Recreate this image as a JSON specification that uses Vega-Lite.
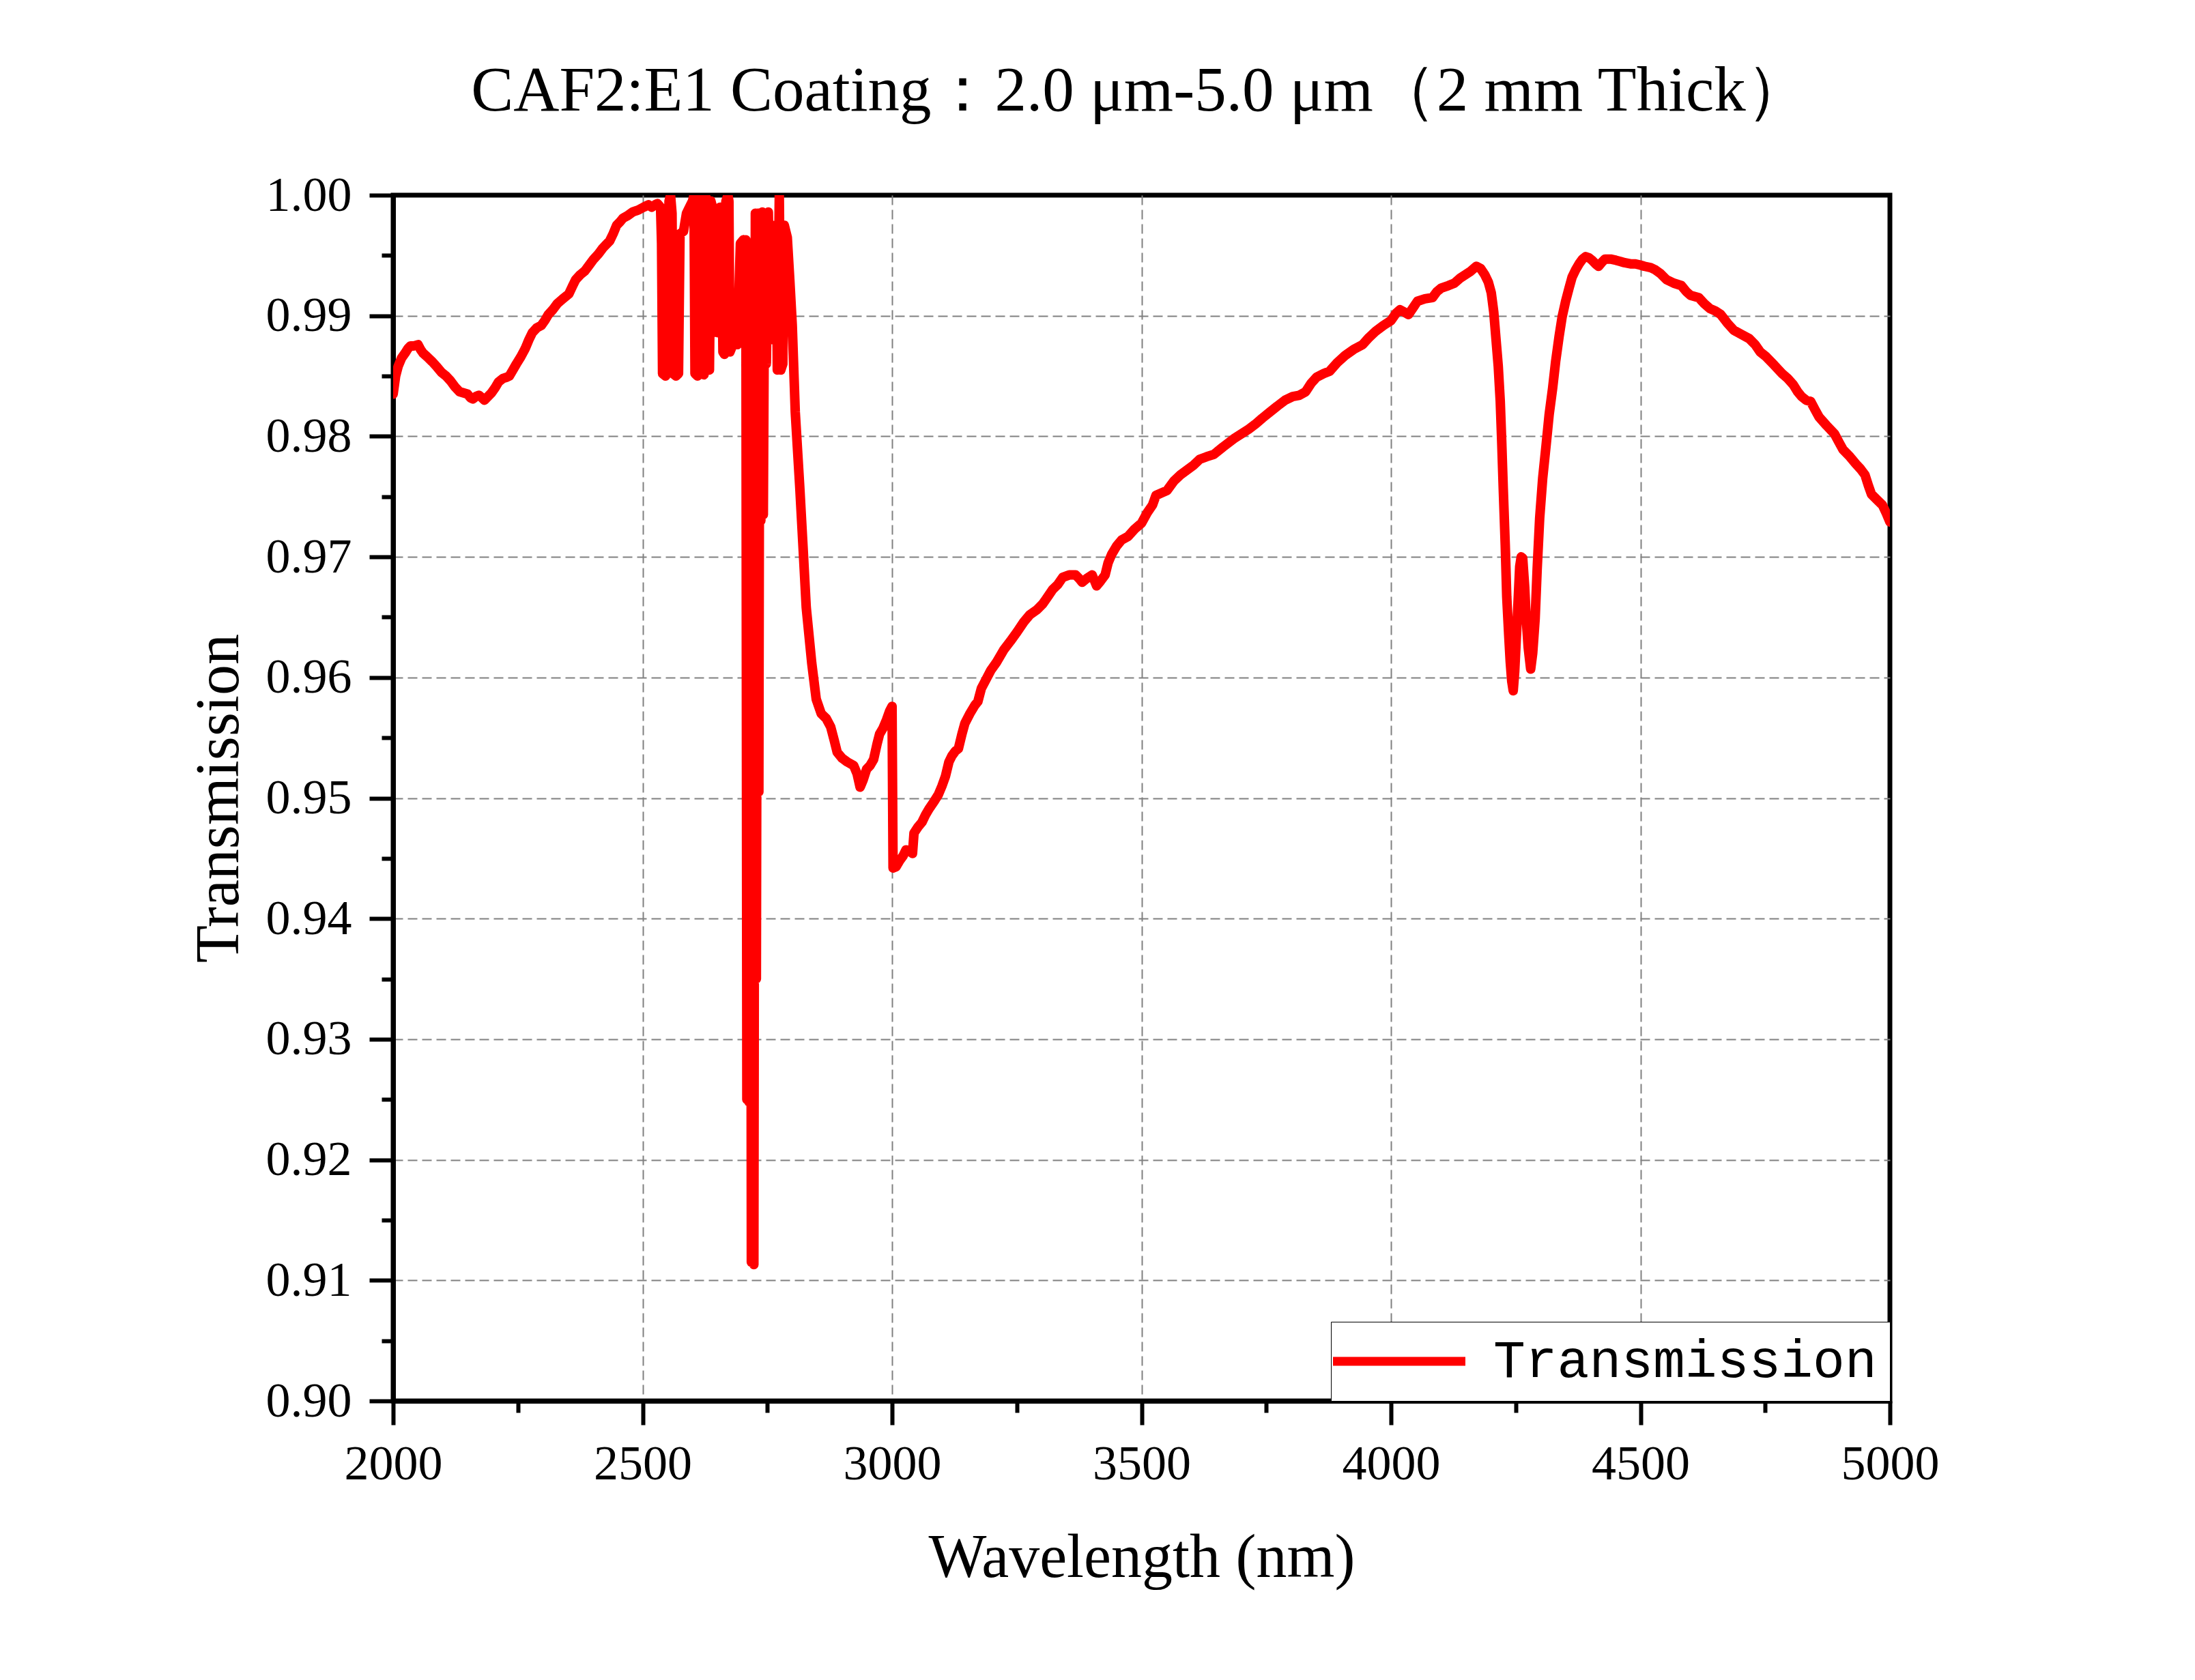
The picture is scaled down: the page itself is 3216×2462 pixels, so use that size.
{
  "$schema": "https://vega.github.io/schema/vega-lite/v6.json",
  "width": 2193,
  "height": 1767,
  "autosize": {"type": "none"},
  "padding": {"left": 576, "top": 286, "right": 447, "bottom": 409},
  "background": "white",
  "title": {
    "text": "CAF2:E1 Coating：2.0 μm-5.0 μm（2 mm Thick）",
    "font": "Liberation Serif",
    "fontSize": 93,
    "fontWeight": "normal",
    "color": "black",
    "anchor": "middle",
    "baseline": "alphabetic",
    "offset": -5,
    "dx": -2
  },
  "data": {
    "values": [
      {"wl": 2000, "t": 0.9835}, {"wl": 2005, "t": 0.9850}, {"wl": 2010, "t": 0.9858}, {"wl": 2017, "t": 0.9865},
      {"wl": 2024, "t": 0.9869}, {"wl": 2030, "t": 0.9873}, {"wl": 2035, "t": 0.9875}, {"wl": 2042, "t": 0.9875},
      {"wl": 2050, "t": 0.9876}, {"wl": 2055, "t": 0.9872}, {"wl": 2060, "t": 0.9869}, {"wl": 2068, "t": 0.9866},
      {"wl": 2078, "t": 0.9862}, {"wl": 2087, "t": 0.9858}, {"wl": 2097, "t": 0.9853}, {"wl": 2106, "t": 0.9850},
      {"wl": 2115, "t": 0.9846}, {"wl": 2124, "t": 0.9841}, {"wl": 2133, "t": 0.9837}, {"wl": 2141, "t": 0.9836},
      {"wl": 2149, "t": 0.9835}, {"wl": 2155, "t": 0.9832}, {"wl": 2160, "t": 0.9831}, {"wl": 2166, "t": 0.9833},
      {"wl": 2172, "t": 0.9834}, {"wl": 2178, "t": 0.9832}, {"wl": 2183, "t": 0.9830}, {"wl": 2190, "t": 0.9833},
      {"wl": 2197, "t": 0.9836}, {"wl": 2204, "t": 0.9840}, {"wl": 2211, "t": 0.9845}, {"wl": 2220, "t": 0.9848},
      {"wl": 2228, "t": 0.9849}, {"wl": 2233, "t": 0.9850}, {"wl": 2240, "t": 0.9855}, {"wl": 2247, "t": 0.9860},
      {"wl": 2256, "t": 0.9866}, {"wl": 2265, "t": 0.9873}, {"wl": 2272, "t": 0.9880}, {"wl": 2279, "t": 0.9886},
      {"wl": 2288, "t": 0.9890}, {"wl": 2297, "t": 0.9892}, {"wl": 2304, "t": 0.9896}, {"wl": 2311, "t": 0.9901},
      {"wl": 2320, "t": 0.9905}, {"wl": 2329, "t": 0.9910}, {"wl": 2340, "t": 0.9914}, {"wl": 2352, "t": 0.9918},
      {"wl": 2360, "t": 0.9925}, {"wl": 2366, "t": 0.9930}, {"wl": 2375, "t": 0.9934}, {"wl": 2384, "t": 0.9937},
      {"wl": 2393, "t": 0.9942}, {"wl": 2402, "t": 0.9947}, {"wl": 2411, "t": 0.9951}, {"wl": 2420, "t": 0.9956},
      {"wl": 2427, "t": 0.9959}, {"wl": 2434, "t": 0.9962}, {"wl": 2441, "t": 0.9968}, {"wl": 2448, "t": 0.9975},
      {"wl": 2455, "t": 0.9978}, {"wl": 2461, "t": 0.9981}, {"wl": 2470, "t": 0.9983}, {"wl": 2480, "t": 0.9986},
      {"wl": 2487, "t": 0.9987}, {"wl": 2493, "t": 0.9988}, {"wl": 2502, "t": 0.9990}, {"wl": 2512, "t": 0.9992},
      {"wl": 2518, "t": 0.9990}, {"wl": 2525, "t": 0.9992}, {"wl": 2530, "t": 0.9993}, {"wl": 2536, "t": 0.9990},
      {"wl": 2538, "t": 0.9960}, {"wl": 2540, "t": 0.9852}, {"wl": 2546, "t": 0.9850}, {"wl": 2550, "t": 0.9853},
      {"wl": 2553, "t": 0.9995}, {"wl": 2556, "t": 1.0000}, {"wl": 2559, "t": 0.9985}, {"wl": 2561, "t": 0.9852},
      {"wl": 2567, "t": 0.9850}, {"wl": 2572, "t": 0.9852}, {"wl": 2575, "t": 0.9968}, {"wl": 2582, "t": 0.9970},
      {"wl": 2588, "t": 0.9985}, {"wl": 2594, "t": 0.9990}, {"wl": 2600, "t": 0.9995}, {"wl": 2603, "t": 1.0000},
      {"wl": 2605, "t": 0.9852}, {"wl": 2610, "t": 0.9850}, {"wl": 2613, "t": 1.0000}, {"wl": 2616, "t": 0.9995},
      {"wl": 2618, "t": 0.9852}, {"wl": 2623, "t": 0.9851}, {"wl": 2626, "t": 1.0000}, {"wl": 2629, "t": 0.9995},
      {"wl": 2631, "t": 0.9856}, {"wl": 2634, "t": 0.9855}, {"wl": 2637, "t": 0.9995}, {"wl": 2640, "t": 0.9990},
      {"wl": 2643, "t": 0.9887}, {"wl": 2650, "t": 0.9886}, {"wl": 2655, "t": 0.9990}, {"wl": 2658, "t": 0.9990},
      {"wl": 2661, "t": 0.9870}, {"wl": 2664, "t": 0.9868}, {"wl": 2667, "t": 0.9995}, {"wl": 2671, "t": 1.0000},
      {"wl": 2673, "t": 0.9995}, {"wl": 2675, "t": 0.9870}, {"wl": 2680, "t": 0.9875}, {"wl": 2686, "t": 0.9878},
      {"wl": 2690, "t": 0.9876}, {"wl": 2696, "t": 0.9960}, {"wl": 2702, "t": 0.9963}, {"wl": 2705, "t": 0.9876},
      {"wl": 2707, "t": 0.9963}, {"wl": 2709, "t": 0.9250}, {"wl": 2711, "t": 0.9960}, {"wl": 2713, "t": 0.9248},
      {"wl": 2716, "t": 0.9900}, {"wl": 2718, "t": 0.9115}, {"wl": 2721, "t": 0.9960}, {"wl": 2723, "t": 0.9113},
      {"wl": 2726, "t": 0.9985}, {"wl": 2728, "t": 0.9350}, {"wl": 2731, "t": 0.9985}, {"wl": 2733, "t": 0.9505},
      {"wl": 2735, "t": 0.9985}, {"wl": 2737, "t": 0.9730}, {"wl": 2740, "t": 0.9986}, {"wl": 2742, "t": 0.9735},
      {"wl": 2745, "t": 0.9985}, {"wl": 2748, "t": 0.9860}, {"wl": 2752, "t": 0.9986}, {"wl": 2756, "t": 0.9880},
      {"wl": 2760, "t": 0.9975}, {"wl": 2764, "t": 0.9880}, {"wl": 2768, "t": 0.9970}, {"wl": 2770, "t": 0.9855},
      {"wl": 2774, "t": 1.0000}, {"wl": 2777, "t": 0.9855}, {"wl": 2781, "t": 0.9860}, {"wl": 2784, "t": 0.9975},
      {"wl": 2790, "t": 0.9965}, {"wl": 2795, "t": 0.9930}, {"wl": 2800, "t": 0.9892}, {"wl": 2806, "t": 0.9820},
      {"wl": 2815, "t": 0.9758}, {"wl": 2822, "t": 0.9705}, {"wl": 2828, "t": 0.9658}, {"wl": 2839, "t": 0.9612},
      {"wl": 2848, "t": 0.9582}, {"wl": 2858, "t": 0.9570}, {"wl": 2868, "t": 0.9566}, {"wl": 2877, "t": 0.9559},
      {"wl": 2884, "t": 0.9548}, {"wl": 2890, "t": 0.9538}, {"wl": 2900, "t": 0.9533}, {"wl": 2910, "t": 0.9530},
      {"wl": 2923, "t": 0.9527}, {"wl": 2930, "t": 0.9520}, {"wl": 2936, "t": 0.9509}, {"wl": 2942, "t": 0.9515},
      {"wl": 2949, "t": 0.9524}, {"wl": 2956, "t": 0.9527}, {"wl": 2963, "t": 0.9532}, {"wl": 2970, "t": 0.9545},
      {"wl": 2975, "t": 0.9553}, {"wl": 2982, "t": 0.9558}, {"wl": 2989, "t": 0.9565}, {"wl": 2995, "t": 0.9572},
      {"wl": 3000, "t": 0.9576}, {"wl": 3002, "t": 0.9442}, {"wl": 3008, "t": 0.9443}, {"wl": 3015, "t": 0.9448},
      {"wl": 3022, "t": 0.9452}, {"wl": 3028, "t": 0.9457}, {"wl": 3036, "t": 0.9456}, {"wl": 3041, "t": 0.9454},
      {"wl": 3044, "t": 0.9471}, {"wl": 3052, "t": 0.9476}, {"wl": 3060, "t": 0.9480}, {"wl": 3067, "t": 0.9486},
      {"wl": 3074, "t": 0.9491}, {"wl": 3084, "t": 0.9497}, {"wl": 3093, "t": 0.9503}, {"wl": 3100, "t": 0.9510},
      {"wl": 3107, "t": 0.9518}, {"wl": 3114, "t": 0.9530}, {"wl": 3120, "t": 0.9535}, {"wl": 3127, "t": 0.9539},
      {"wl": 3133, "t": 0.9541}, {"wl": 3140, "t": 0.9553}, {"wl": 3146, "t": 0.9562}, {"wl": 3156, "t": 0.9570},
      {"wl": 3166, "t": 0.9577}, {"wl": 3172, "t": 0.9580}, {"wl": 3179, "t": 0.9591}, {"wl": 3188, "t": 0.9598},
      {"wl": 3198, "t": 0.9606}, {"wl": 3210, "t": 0.9613}, {"wl": 3224, "t": 0.9623}, {"wl": 3237, "t": 0.9630},
      {"wl": 3251, "t": 0.9638}, {"wl": 3264, "t": 0.9646}, {"wl": 3276, "t": 0.9652}, {"wl": 3290, "t": 0.9656},
      {"wl": 3302, "t": 0.9661}, {"wl": 3312, "t": 0.9667}, {"wl": 3322, "t": 0.9673}, {"wl": 3332, "t": 0.9677},
      {"wl": 3342, "t": 0.9683}, {"wl": 3355, "t": 0.9685}, {"wl": 3368, "t": 0.9685}, {"wl": 3375, "t": 0.9682},
      {"wl": 3381, "t": 0.9679}, {"wl": 3390, "t": 0.9682}, {"wl": 3401, "t": 0.9685}, {"wl": 3406, "t": 0.9680},
      {"wl": 3410, "t": 0.9676}, {"wl": 3418, "t": 0.9680}, {"wl": 3427, "t": 0.9685}, {"wl": 3433, "t": 0.9695},
      {"wl": 3440, "t": 0.9702}, {"wl": 3450, "t": 0.9709}, {"wl": 3460, "t": 0.9714}, {"wl": 3473, "t": 0.9717},
      {"wl": 3486, "t": 0.9723}, {"wl": 3500, "t": 0.9728}, {"wl": 3512, "t": 0.9737}, {"wl": 3522, "t": 0.9743},
      {"wl": 3529, "t": 0.9751}, {"wl": 3540, "t": 0.9753}, {"wl": 3551, "t": 0.9755}, {"wl": 3558, "t": 0.9759},
      {"wl": 3565, "t": 0.9763}, {"wl": 3578, "t": 0.9768}, {"wl": 3591, "t": 0.9772}, {"wl": 3604, "t": 0.9776},
      {"wl": 3617, "t": 0.9781}, {"wl": 3630, "t": 0.9783}, {"wl": 3645, "t": 0.9785}, {"wl": 3663, "t": 0.9791},
      {"wl": 3685, "t": 0.9798}, {"wl": 3700, "t": 0.9802}, {"wl": 3715, "t": 0.9806}, {"wl": 3728, "t": 0.9810},
      {"wl": 3742, "t": 0.9815}, {"wl": 3757, "t": 0.9820}, {"wl": 3772, "t": 0.9825}, {"wl": 3788, "t": 0.9830},
      {"wl": 3803, "t": 0.9833}, {"wl": 3816, "t": 0.9834}, {"wl": 3829, "t": 0.9837}, {"wl": 3840, "t": 0.9844},
      {"wl": 3851, "t": 0.9849}, {"wl": 3865, "t": 0.9852}, {"wl": 3877, "t": 0.9854}, {"wl": 3892, "t": 0.9861},
      {"wl": 3908, "t": 0.9867}, {"wl": 3925, "t": 0.9872}, {"wl": 3943, "t": 0.9876}, {"wl": 3956, "t": 0.9882},
      {"wl": 3969, "t": 0.9887}, {"wl": 3985, "t": 0.9892}, {"wl": 4000, "t": 0.9896}, {"wl": 4010, "t": 0.9902},
      {"wl": 4018, "t": 0.9905}, {"wl": 4027, "t": 0.9903}, {"wl": 4035, "t": 0.9901}, {"wl": 4045, "t": 0.9907},
      {"wl": 4053, "t": 0.9912}, {"wl": 4068, "t": 0.9914}, {"wl": 4083, "t": 0.9915}, {"wl": 4092, "t": 0.9920},
      {"wl": 4101, "t": 0.9923}, {"wl": 4115, "t": 0.9925}, {"wl": 4127, "t": 0.9927}, {"wl": 4138, "t": 0.9931},
      {"wl": 4149, "t": 0.9934}, {"wl": 4160, "t": 0.9937}, {"wl": 4171, "t": 0.9941}, {"wl": 4180, "t": 0.9939},
      {"wl": 4188, "t": 0.9934}, {"wl": 4195, "t": 0.9928}, {"wl": 4201, "t": 0.9919}, {"wl": 4206, "t": 0.9903},
      {"wl": 4210, "t": 0.9883}, {"wl": 4215, "t": 0.9858}, {"wl": 4219, "t": 0.9829}, {"wl": 4222, "t": 0.9795},
      {"wl": 4225, "t": 0.9757}, {"wl": 4229, "t": 0.9710}, {"wl": 4232, "t": 0.9667}, {"wl": 4236, "t": 0.9635},
      {"wl": 4239, "t": 0.9613}, {"wl": 4242, "t": 0.9597}, {"wl": 4245, "t": 0.9589}, {"wl": 4248, "t": 0.9605},
      {"wl": 4251, "t": 0.9631}, {"wl": 4255, "t": 0.9665}, {"wl": 4258, "t": 0.9692}, {"wl": 4261, "t": 0.9700},
      {"wl": 4264, "t": 0.9699}, {"wl": 4268, "t": 0.9675}, {"wl": 4271, "t": 0.9649}, {"wl": 4275, "t": 0.9625},
      {"wl": 4280, "t": 0.9607}, {"wl": 4284, "t": 0.9620}, {"wl": 4289, "t": 0.9649}, {"wl": 4293, "t": 0.9690},
      {"wl": 4298, "t": 0.9732}, {"wl": 4304, "t": 0.9765}, {"wl": 4311, "t": 0.9793}, {"wl": 4317, "t": 0.9818},
      {"wl": 4324, "t": 0.9840}, {"wl": 4330, "t": 0.9862}, {"wl": 4337, "t": 0.9883}, {"wl": 4343, "t": 0.9899},
      {"wl": 4350, "t": 0.9912}, {"wl": 4357, "t": 0.9923}, {"wl": 4363, "t": 0.9932}, {"wl": 4370, "t": 0.9938},
      {"wl": 4377, "t": 0.9943}, {"wl": 4384, "t": 0.9947}, {"wl": 4390, "t": 0.9949}, {"wl": 4397, "t": 0.9948},
      {"wl": 4403, "t": 0.9946}, {"wl": 4410, "t": 0.9943}, {"wl": 4416, "t": 0.9941}, {"wl": 4422, "t": 0.9944},
      {"wl": 4429, "t": 0.9947}, {"wl": 4440, "t": 0.9947}, {"wl": 4451, "t": 0.9946}, {"wl": 4460, "t": 0.9945},
      {"wl": 4468, "t": 0.9944}, {"wl": 4480, "t": 0.9943}, {"wl": 4490, "t": 0.9943}, {"wl": 4500, "t": 0.9942},
      {"wl": 4508, "t": 0.9941}, {"wl": 4520, "t": 0.9940}, {"wl": 4530, "t": 0.9938}, {"wl": 4540, "t": 0.9935},
      {"wl": 4552, "t": 0.9930}, {"wl": 4567, "t": 0.9927}, {"wl": 4582, "t": 0.9925}, {"wl": 4592, "t": 0.9920},
      {"wl": 4600, "t": 0.9917}, {"wl": 4617, "t": 0.9915}, {"wl": 4628, "t": 0.9910}, {"wl": 4639, "t": 0.9906},
      {"wl": 4650, "t": 0.9904}, {"wl": 4661, "t": 0.9901}, {"wl": 4674, "t": 0.9894}, {"wl": 4687, "t": 0.9888},
      {"wl": 4700, "t": 0.9885}, {"wl": 4718, "t": 0.9881}, {"wl": 4730, "t": 0.9876}, {"wl": 4740, "t": 0.9870},
      {"wl": 4752, "t": 0.9866}, {"wl": 4766, "t": 0.9860}, {"wl": 4775, "t": 0.9856}, {"wl": 4784, "t": 0.9852},
      {"wl": 4795, "t": 0.9848}, {"wl": 4806, "t": 0.9843}, {"wl": 4815, "t": 0.9837}, {"wl": 4823, "t": 0.9833},
      {"wl": 4832, "t": 0.9830}, {"wl": 4841, "t": 0.9829}, {"wl": 4850, "t": 0.9822}, {"wl": 4858, "t": 0.9816},
      {"wl": 4873, "t": 0.9809}, {"wl": 4889, "t": 0.9802}, {"wl": 4898, "t": 0.9795}, {"wl": 4906, "t": 0.9789},
      {"wl": 4920, "t": 0.9783}, {"wl": 4932, "t": 0.9777}, {"wl": 4941, "t": 0.9773}, {"wl": 4950, "t": 0.9768},
      {"wl": 4957, "t": 0.9759}, {"wl": 4963, "t": 0.9752}, {"wl": 4975, "t": 0.9747}, {"wl": 4985, "t": 0.9743},
      {"wl": 4993, "t": 0.9736}, {"wl": 5000, "t": 0.9729}
    ]
  },
  "mark": {
    "type": "line",
    "strokeWidth": 14,
    "strokeJoin": "round",
    "strokeCap": "round",
    "clip": true
  },
  "encoding": {
    "x": {
      "field": "wl",
      "type": "quantitative",
      "scale": {"domain": [2000, 5000], "nice": false, "zero": false},
      "axis": {
        "title": "Wavelength (nm)",
        "values": [2000, 2250, 2500, 2750, 3000, 3250, 3500, 3750, 4000, 4250, 4500, 4750, 5000],
        "format": "d",
        "labelExpr": "datum.value % 500 === 0 ? datum.label : ''",
        "tickSize": {"condition": {"test": "datum.value % 500 === 0", "value": 35}, "value": 17},
        "gridOpacity": {"condition": {"test": "datum.value % 500 === 0 && datum.value > 2000 && datum.value < 5000", "value": 1}, "value": 0},
        "labelPadding": 22,
        "titlePadding": 58
      }
    },
    "y": {
      "field": "t",
      "type": "quantitative",
      "scale": {"domain": [0.9, 1.0], "nice": false, "zero": false},
      "axis": {
        "title": "Transmission",
        "values": [0.9, 0.905, 0.91, 0.915, 0.92, 0.925, 0.93, 0.935, 0.94, 0.945, 0.95, 0.955, 0.96, 0.965, 0.97, 0.975, 0.98, 0.985, 0.99, 0.995, 1.0],
        "format": ".2f",
        "labelExpr": "abs(datum.value * 100 - round(datum.value * 100)) < 0.01 ? datum.label : ''",
        "tickSize": {"condition": {"test": "abs(datum.value * 100 - round(datum.value * 100)) < 0.01", "value": 35}, "value": 17},
        "gridOpacity": {"condition": {"test": "abs(datum.value * 100 - round(datum.value * 100)) < 0.01 && datum.value > 0.9001 && datum.value < 0.9999", "value": 1}, "value": 0},
        "labelPadding": 26,
        "titlePadding": 22
      }
    },
    "color": {
      "datum": "Transmission",
      "type": "nominal",
      "scale": {"range": ["#ff0000"]},
      "legend": {
        "title": null,
        "orient": "bottom-right",
        "offset": 0,
        "symbolType": "M-5,0H5",
        "symbolSize": 1505,
        "symbolStrokeWidth": 13,
        "symbolStrokeColor": "#ff0000",
        "symbolOffset": 42,
        "labelOffset": 99,
        "labelLimit": 0,
        "labelFont": "Liberation Mono",
        "labelFontSize": 78,
        "labelColor": "black",
        "padding": 19,
        "strokeColor": "black",
        "fillColor": "white"
      }
    }
  },
  "config": {
    "view": {"stroke": "black", "strokeWidth": 7},
    "axis": {
      "domainColor": "black",
      "domainWidth": 7,
      "tickColor": "black",
      "tickWidth": 6,
      "labelFont": "Liberation Serif",
      "labelFontSize": 72,
      "labelColor": "black",
      "labelOverlap": false,
      "labelFlush": false,
      "titleFont": "Liberation Serif",
      "titleFontSize": 90,
      "titleFontWeight": "normal",
      "titleColor": "black",
      "gridColor": "#808080",
      "gridDash": [14, 7],
      "gridWidth": 2
    }
  }
}
